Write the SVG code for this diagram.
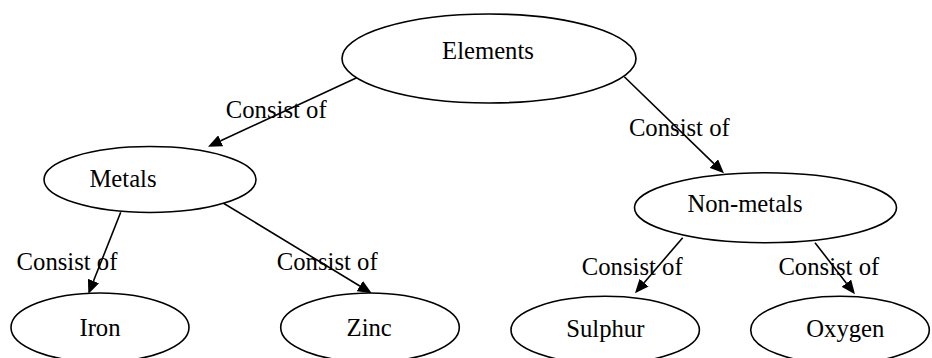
<svg xmlns="http://www.w3.org/2000/svg" width="932" height="358" viewBox="0 0 932 358" font-family="Liberation Serif, Times New Roman, serif" font-size="24.7">
<defs>
<style>
.node ellipse{fill:#fff;stroke:#000;stroke-width:1.6}
text{font-family:'Liberation Serif','Times New Roman',serif;font-size:24.7px;fill:#000;text-anchor:middle}
.edges line{stroke:#000;stroke-width:1.6}
</style>
<marker id="arr" viewBox="0 0 14 12" markerWidth="14" markerHeight="12" refX="0" refY="6" orient="auto" markerUnits="userSpaceOnUse">
<path d="M0,0 L14,6 L0,12 z" fill="#000"/>
</marker>
</defs>
<rect width="932" height="358" fill="#fff"/>
<g class="edges" id="connectors">
<line x1="356.7" y1="77.7" x2="220.7" y2="140.8" marker-end="url(#arr)"/>
<line x1="624.3" y1="76.7" x2="713.9" y2="163.6" marker-end="url(#arr)"/>
<line x1="120.7" y1="212.3" x2="93.5" y2="281" marker-end="url(#arr)"/>
<line x1="222.7" y1="202.7" x2="359.8" y2="286" marker-end="url(#arr)"/>
<line x1="682.7" y1="237.7" x2="644.1" y2="282.7" marker-end="url(#arr)"/>
<line x1="815" y1="242.7" x2="846.4" y2="283.2" marker-end="url(#arr)"/>
<text x="276.2" y="118.3">Consist of</text>
<text x="679.3" y="135.5">Consist of</text>
<text x="67" y="270">Consist of</text>
<text x="327.2" y="270">Consist of</text>
<text x="632.2" y="275">Consist of</text>
<text x="828.8" y="275">Consist of</text>
</g>
<g class="node" id="elements">
<ellipse cx="489" cy="58.5" rx="147" ry="44.5"/>
<text x="488" y="59">Elements</text>
</g>
<g class="node" id="metals">
<ellipse cx="150" cy="179.5" rx="106" ry="33"/>
<text x="123" y="186.7">Metals</text>
</g>
<g class="node" id="nonmetals">
<ellipse cx="765.5" cy="207.7" rx="131" ry="35"/>
<text x="745" y="211.7">Non-metals</text>
</g>
<g class="node" id="iron">
<ellipse cx="100" cy="327.5" rx="89" ry="34.5"/>
<text x="100" y="335.7">Iron</text>
</g>
<g class="node" id="zinc">
<ellipse cx="370" cy="327.5" rx="89.3" ry="34.5"/>
<text x="369.2" y="335.7">Zinc</text>
</g>
<g class="node" id="sulphur">
<ellipse cx="605.2" cy="330" rx="94.2" ry="33.7"/>
<text x="605.3" y="337.3">Sulphur</text>
</g>
<g class="node" id="oxygen">
<ellipse cx="840" cy="330" rx="89.3" ry="33.7"/>
<text x="845.3" y="337.3">Oxygen</text>
</g>
</svg>
